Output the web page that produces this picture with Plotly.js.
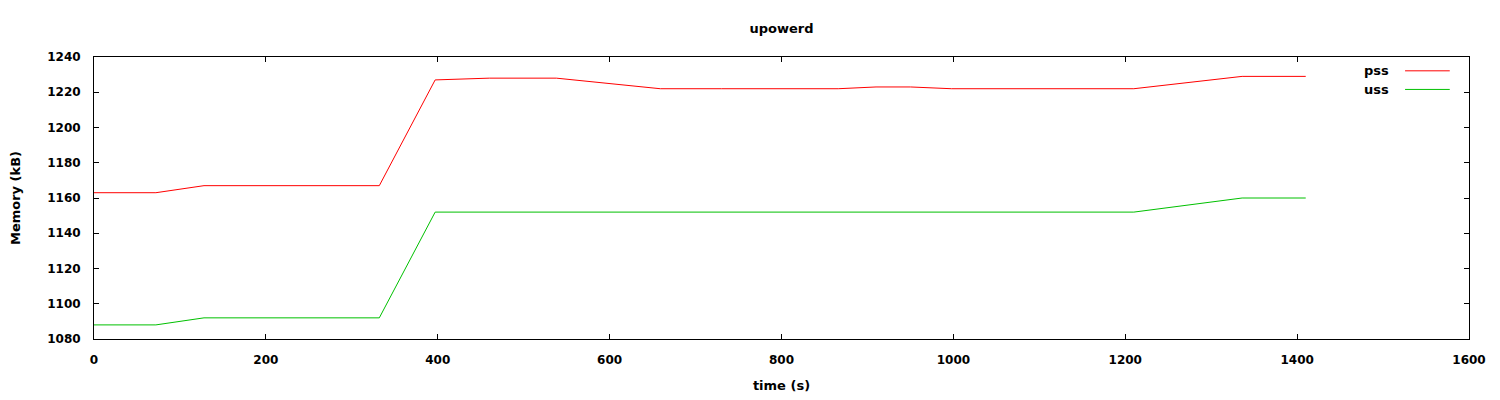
<!DOCTYPE html>
<html>
<head>
<meta charset="utf-8">
<script src="https://cdn.plot.ly/plotly-3.0.1.min.js"></script>
<style>html,body{margin:0;padding:0;background:#fff;}#chart{width:1500px;height:400px;}</style>
</head>
<body>
<div id="chart"></div>
<script>
// time samples (s)
const times = [0, 72, 128, 195, 265, 332, 397, 460, 538, 600, 659, 730, 800, 866, 910, 950, 998, 1065, 1135, 1210, 1336, 1410];
// pss memory (kB)
const pssValues = [1163, 1163, 1167, 1167, 1167, 1167, 1227, 1228, 1228, 1225, 1222, 1222, 1222, 1222, 1223, 1223, 1222, 1222, 1222, 1222, 1229, 1229];
// uss memory (kB)
const ussValues = [1088, 1088, 1092, 1092, 1092, 1092, 1152, 1152, 1152, 1152, 1152, 1152, 1152, 1152, 1152, 1152, 1152, 1152, 1152, 1152, 1160, 1160];
const seriesNames = ['pss', 'uss'];
const xTicks = [0, 200, 400, 600, 800, 1000, 1200, 1400, 1600];
const yTicks = [1080, 1100, 1120, 1140, 1160, 1180, 1200, 1220, 1240];

const colors = ['#ff0000', '#00c000'];
const font = {family: 'DejaVu Sans, sans-serif', size: 12, color: '#000', weight: 'bold'};
const titleFont = {family: 'DejaVu Sans, sans-serif', size: 13, color: '#000', weight: 'bold'};

const traces = [
  {x: times, y: pssValues, name: seriesNames[0], mode: 'lines', line: {color: colors[0], width: 1}},
  {x: times, y: ussValues, name: seriesNames[1], mode: 'lines', line: {color: colors[1], width: 1}}
];

const legendY = [0.951, 0.885];
const annotations = seriesNames.map((n, i) => ({
  text: n, xref: 'paper', yref: 'paper', x: 0.943, y: legendY[i],
  xanchor: 'right', yanchor: 'middle', showarrow: false, font: titleFont
}));
const shapes = seriesNames.map((n, i) => ({
  type: 'line', xref: 'paper', yref: 'paper', x0: 0.9535, x1: 0.986, y0: legendY[i], y1: legendY[i],
  line: {color: colors[i], width: 1}
}));

const axisCommon = {
  showline: true, linecolor: '#000', linewidth: 1, mirror: 'allticks',
  ticks: 'inside', ticklen: 5, tickwidth: 1, tickcolor: '#000',
  showgrid: false, zeroline: false, tickfont: font, ticklabelstandoff: 10
};

const layout = {
  width: 1500, height: 400,
  margin: {l: 94, r: 31, t: 57, b: 61, pad: 0},
  paper_bgcolor: '#fff', plot_bgcolor: '#fff',
  showlegend: false,
  font: font,
  title: {text: 'upowerd', font: titleFont, x: 0.5, xref: 'paper', y: 1 - 28/400, yref: 'container', yanchor: 'middle'},
  xaxis: Object.assign({}, axisCommon, {
    range: [0, 1600], tickvals: xTicks, ticktext: xTicks.map(String),
    title: {text: 'time (s)', font: titleFont, standoff: 14}
  }),
  yaxis: Object.assign({}, axisCommon, {
    range: [1080, 1240], tickvals: yTicks, ticktext: yTicks.map(String),
    title: {text: 'Memory (kB)', font: titleFont, standoff: 23}
  }),
  annotations: annotations,
  shapes: shapes
};

Plotly.newPlot('chart', traces, layout, {displayModeBar: false, staticPlot: true});
</script>
</body>
</html>
